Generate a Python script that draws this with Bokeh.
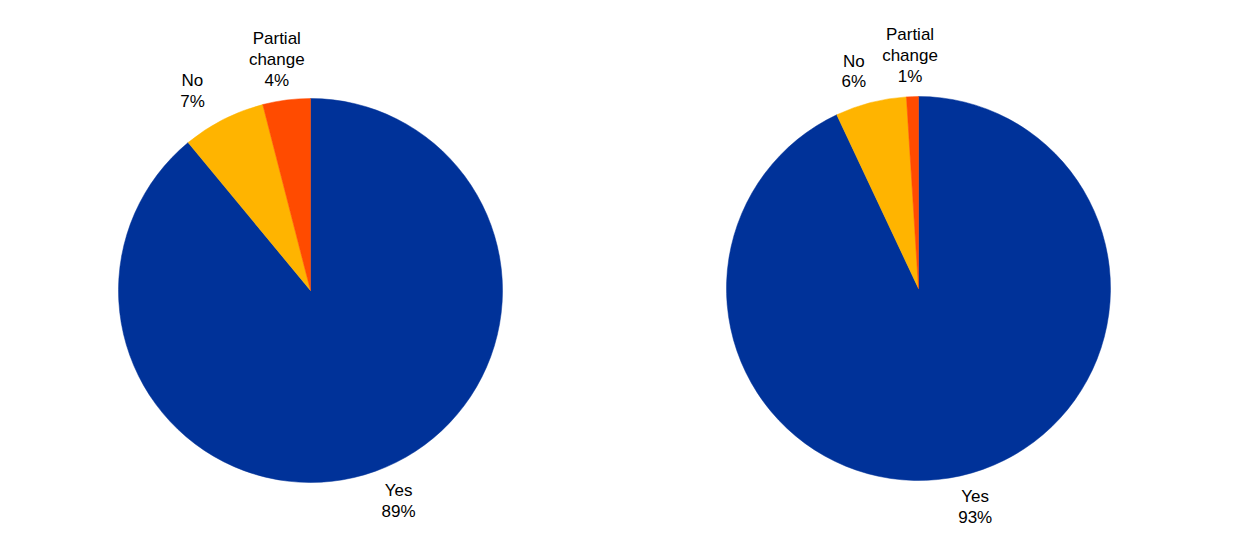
import numpy as np
from bokeh.plotting import figure
from bokeh.models import ColumnDataSource
from bokeh.core.properties import value
from bokeh.embed import file_html
from bokeh.resources import INLINE

# ---- data ----
categories = ["Yes", "No", "Partial\nchange"]
left_values = [89, 7, 4]
right_values = [93, 6, 1]
colors = ["#003299", "#FFB400", "#FF4B00"]

W, H = 1240, 536
p = figure(width=W, height=H, x_range=(0, W), y_range=(0, H),
           output_backend="svg", toolbar_location=None, min_border=0)
p.axis.visible = False
p.grid.visible = False
p.outline_line_color = None
p.background_fill_color = "white"

R = 192
centers = [(310, H - 290), (918, H - 288)]

for (cx, cy), vals in zip(centers, [left_values, right_values]):
    v = np.array(vals, dtype=float)
    frac = v / v.sum()
    cum = np.concatenate([[0], np.cumsum(frac)])
    start = np.pi / 2 - cum[:-1] * 2 * np.pi
    end = np.pi / 2 - cum[1:] * 2 * np.pi
    mid = (start + end) / 2
    labels = [f"{c}\n{int(x)}%" for c, x in zip(categories, vals)]
    nlines = np.array([l.count("\n") + 1 for l in labels])
    lr = R + 32 + 9 * (nlines - 2)
    src = ColumnDataSource(dict(
        start=start, end=end, color=colors,
        x=[cx] * 3, y=[cy] * 3,
        lx=cx + lr * np.cos(mid) + 36 * np.cos(mid),
        ly=cy + lr * np.sin(mid),
        label=labels))
    p.wedge(x="x", y="y", radius=R, start_angle="end", end_angle="start",
            fill_color="color", line_color="color", line_width=0.5, source=src)
    p.text(x="lx", y="ly", text="label", source=src, text_align="center",
           text_baseline="middle", text_font=value("Liberation Sans"),
           text_font_size="17px", text_line_height=1.1, text_color="black")

open("out.html", "w").write(file_html(p, INLINE))
